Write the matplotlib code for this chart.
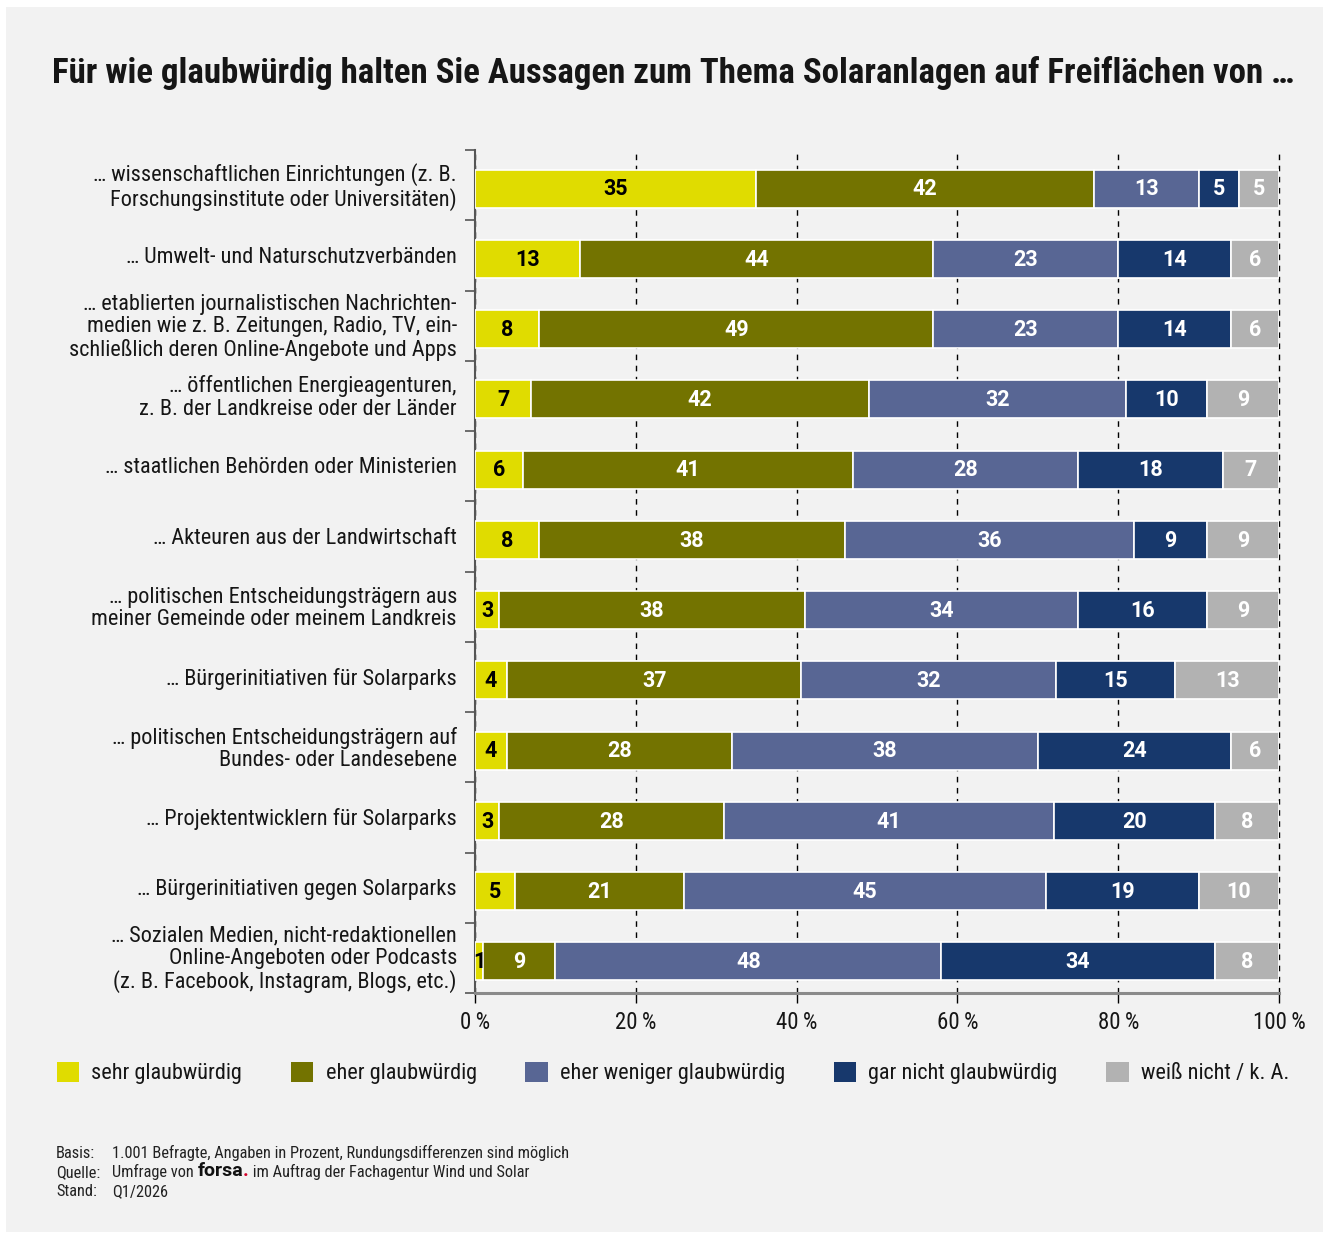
import matplotlib
matplotlib.use('Agg')
import matplotlib.pyplot as plt
from matplotlib import font_manager
from matplotlib.patches import Rectangle, Patch
import numpy as np

available = {f.name for f in font_manager.fontManager.ttflist}
def pick(cands):
    for c in cands:
        if c in available:
            return c
    return 'DejaVu Sans'

FONT = pick(['Liberation Sans Narrow', 'Roboto Condensed', 'Open Sans Condensed', 'Roboto', 'DejaVu Sans'])
NUMFONT = pick(['Roboto', 'Open Sans', 'Liberation Sans', 'DejaVu Sans'])
plt.rcParams['font.family'] = [FONT, 'DejaVu Sans']

# ---------------- data ----------------
title = "Für wie glaubwürdig halten Sie Aussagen zum Thema Solaranlagen auf Freiflächen von …"
categories = [
    "… wissenschaftlichen Einrichtungen (z. B.\nForschungsinstitute oder Universitäten)",
    "… Umwelt- und Naturschutzverbänden",
    "… etablierten journalistischen Nachrichten-\nmedien wie z. B. Zeitungen, Radio, TV, ein-\nschließlich deren Online-Angebote und Apps",
    "… öffentlichen Energieagenturen,\nz. B. der Landkreise oder der Länder",
    "… staatlichen Behörden oder Ministerien",
    "… Akteuren aus der Landwirtschaft",
    "… politischen Entscheidungsträgern aus\nmeiner Gemeinde oder meinem Landkreis",
    "… Bürgerinitiativen für Solarparks",
    "… politischen Entscheidungsträgern auf\nBundes- oder Landesebene",
    "… Projektentwicklern für Solarparks",
    "… Bürgerinitiativen gegen Solarparks",
    "… Sozialen Medien, nicht-redaktionellen\nOnline-Angeboten oder Podcasts\n(z. B. Facebook, Instagram, Blogs, etc.)",
]
series_names = ["sehr glaubwürdig", "eher glaubwürdig", "eher weniger glaubwürdig",
                "gar nicht glaubwürdig", "weiß nicht / k. A."]
sehr    = [35, 13, 8, 7, 6, 8, 3, 4.0, 4, 3, 5, 1]
eher    = [42, 44, 49, 42, 41, 38, 38, 36.6, 28, 28, 21, 9]
weniger = [13, 23, 23, 32, 28, 36, 34, 31.7, 38, 41, 45, 48]
gar     = [5, 14, 14, 10, 18, 9, 16, 14.8, 24, 20, 19, 34]
weiss   = [5, 6, 6, 9, 7, 9, 9, 12.9, 6, 8, 10, 8]
x_ticks = [0, 20, 40, 60, 80, 100]
x_tick_labels = ["0\u2009%", "20\u2009%", "40\u2009%", "60\u2009%", "80\u2009%", "100\u2009%"]
footer_keys = ["Basis:", "Quelle:", "Stand:"]
footer_vals = ["1.001 Befragte, Angaben in Prozent, Rundungsdifferenzen sind möglich",
               "Umfrage von ", "Q1/2026"]

# ---------------- style ----------------
colors = ["#e0dc00", "#737300", "#586694", "#17386c", "#b2b2b2"]
label_colors = ["black", "white", "white", "white", "white"]
W, H = 1325, 1234
BG = "#f2f2f2"
TXT = "#161616"

fig = plt.figure(figsize=(W / 100, H / 100), dpi=100)
fig.patch.set_facecolor("white")
fig.add_artist(Rectangle((6 / W, 2 / H), (1323 - 6) / W, (1227 - 2) / H,
                         transform=fig.transFigure, facecolor=BG, edgecolor="none", zorder=-10))

ax = fig.add_axes([475 / W, 1 - 993 / H, (1279 - 475) / W, (993 - 150) / H])
ax.set_facecolor("none")

series = [sehr, eher, weniger, gar, weiss]
y = np.arange(len(categories))
left = np.zeros(len(categories))
for vals, c, lc in zip(series, colors, label_colors):
    vals = np.array(vals, dtype=float)
    ax.barh(y, vals, left=left, height=0.54, color=c, edgecolor="white", linewidth=1.2, zorder=3)
    for yi, (l, v) in enumerate(zip(left, vals)):
        ax.text(l + v / 2, yi + 0.01, f"{round(v)}", ha="center", va="center", fontsize=15.5,
                fontweight="bold", color=lc, zorder=4, family=[NUMFONT, 'DejaVu Sans'])
    left += vals

ax.set_xlim(0, 100)
ax.set_ylim(11.45, -0.55)
ax.set_xticks(x_ticks)
ax.set_xticklabels(x_tick_labels, fontsize=16.5)
ax.set_yticks(y)
ax.set_yticklabels([])
ytr = ax.get_yaxis_transform()
for yi, cat in zip(y, categories):
    ax.text(-18 / 804, yi - 0.025, cat, transform=ytr, ha="right", va="center", fontsize=16,
            color=TXT, linespacing=1.08, multialignment="right")
ax.set_yticks(np.arange(len(categories) + 1) - 0.55, minor=True)
ax.tick_params(axis="y", which="major", length=0)
ax.tick_params(axis="y", which="minor", length=7, width=1.2, color="#555555")
ax.tick_params(axis="x", which="major", length=7, width=1, color="black", pad=6, labelcolor=TXT)

ax.grid(axis="x", color="black", linestyle=(0, (4, 4)), linewidth=1, zorder=0)
for gl in ax.xaxis.get_gridlines():
    gl.set_clip_on(False)
ax.set_axisbelow(True)
for s in ["top", "right"]:
    ax.spines[s].set_visible(False)
ax.spines["left"].set_color("#555555")
ax.spines["left"].set_linewidth(1.5)
ax.spines["bottom"].set_color("#8a8a8a")
ax.spines["bottom"].set_linewidth(2.2)

# title
renderer = fig.canvas.get_renderer()
ttl = fig.text(52 / W, 1 - 73 / H, title, fontsize=22, fontweight="bold", ha="left", va="center",
               color=TXT)
bb = ttl.get_window_extent(renderer)
ttl.set_fontsize(22 * (1294 - 52) / bb.width)

# legend
handles = [Patch(facecolor=c, edgecolor="none") for c in colors]
fig.legend(handles, series_names, loc="center left", bbox_to_anchor=(57 / W, 1 - 1073 / H),
           ncol=5, frameon=False, fontsize=16, handlelength=1.0, handleheight=1.0,
           handletextpad=0.55, columnspacing=2.2, labelcolor=TXT, borderpad=0, borderaxespad=0)

# footer
fy = [1158, 1177, 1196]
FS = 11.8
for k, v, yy in zip(footer_keys, footer_vals, fy):
    fig.text(56 / W, 1 - yy / H, k, fontsize=FS, va="baseline", ha="left", color="#222222")
    t = fig.text(112 / W, 1 - yy / H, v, fontsize=FS, va="baseline", ha="left", color="#222222")
    if k == "Quelle:":
        t2 = ax.annotate("forsa", xy=(1, 0), xycoords=t, xytext=(0, 0), textcoords="offset points",
                         fontsize=14, fontweight="bold", color="#111111", ha="left", va="bottom",
                         annotation_clip=False, family=[NUMFONT, 'DejaVu Sans'])
        t3 = ax.annotate(".", xy=(1, 0), xycoords=t2, xytext=(0, 0), textcoords="offset points",
                         fontsize=14, fontweight="bold", color="#d40028", ha="left", va="bottom",
                         annotation_clip=False, family=[NUMFONT, 'DejaVu Sans'])
        ax.annotate(" im Auftrag der Fachagentur Wind und Solar", xy=(1, 0), xycoords=t3,
                    xytext=(0, 0), textcoords="offset points", fontsize=FS, color="#222222",
                    ha="left", va="bottom", annotation_clip=False)

fig.savefig("out.png", dpi=100, facecolor="white")
